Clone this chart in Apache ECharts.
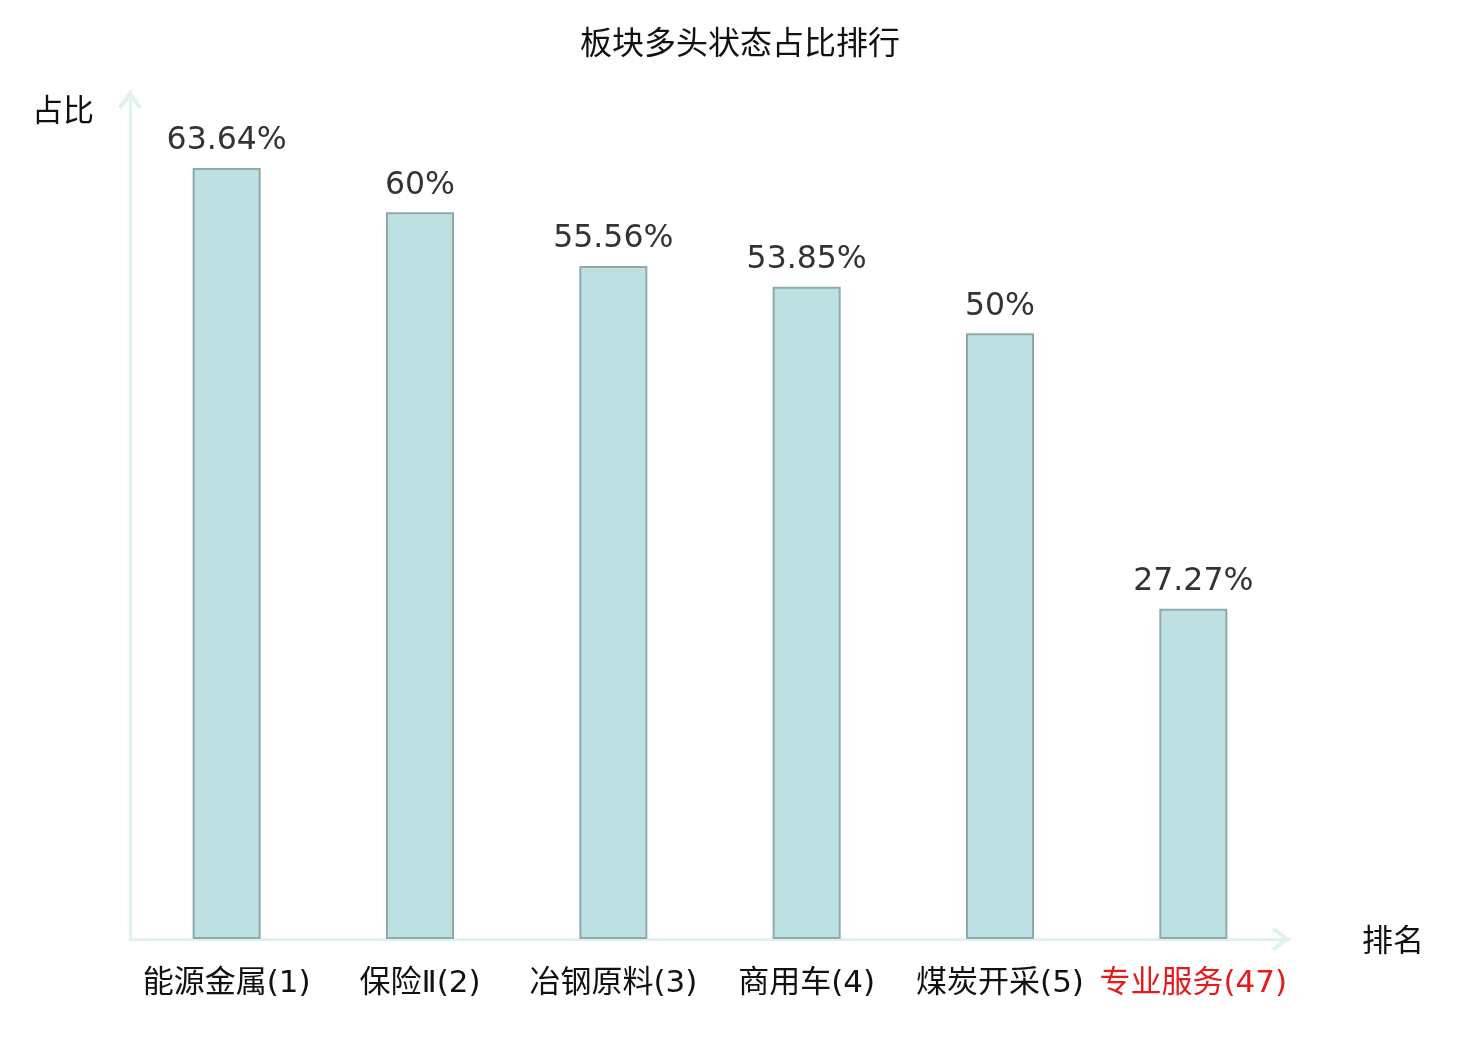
<!DOCTYPE html>
<html>
<head>
<meta charset="utf-8">
<title>板块多头状态占比排行</title>
<script src="https://cdn.jsdelivr.net/npm/echarts@6/dist/echarts.min.js"></script>
<style>
  html, body { margin: 0; padding: 0; background: #fff; }
  #chart { width: 1480px; height: 1040px; }
</style>
</head>
<body>
<div id="chart"></div>
<script>
// 板块名称与排名
const sectors = ['能源金属', '保险Ⅱ', '冶钢原料', '商用车', '煤炭开采', '专业服务']
const ranks = [1, 2, 3, 4, 5, 47]
// 多头状态占比（%）
const ratios = [63.64, 60, 55.56, 53.85, 50, 27.27]
// 高亮的板块（当前关注）
const highlight = '专业服务'

const categories = sectors.map((s, i) => s + '(' + ranks[i] + ')')

const chart = echarts.init(document.getElementById('chart'))

const font = '"DejaVu Sans", "Noto Sans CJK SC", sans-serif'
const cjkFont = '"Noto Sans CJK SC", sans-serif'
const axisColor = '#dff2ef'
// 空心箭头（折线形），朝上，由 echarts 按轴方向旋转
const arrow = 'path://M0,16 L12,0 L24,16 L20.8,18.4 L12,6.7 L3.2,18.4 Z'

chart.setOption({
  animation: false,
  textStyle: { fontFamily: font },
  title: {
    text: '板块多头状态占比排行',
    left: 'center',
    top: 21,
    textStyle: { fontSize: 32, fontWeight: 'normal', color: '#111', fontFamily: cjkFont }
  },
  grid: { left: 130, right: 190, top: 91, bottom: 101 },
  xAxis: {
    type: 'category',
    data: categories,
    name: '排名',
    nameGap: 72,
    nameTextStyle: { fontSize: 31, color: '#111', fontFamily: cjkFont, padding: [10, 0, 0, 0] },
    axisLine: {
      lineStyle: { color: axisColor, width: 3 },
      symbol: ['none', arrow],
      symbolSize: [24, 18.4],
      symbolOffset: [0, -9]
    },
    axisTick: { show: false },
    axisLabel: {
      interval: 0,
      margin: 29,
      fontSize: 31,
      color: (v) => v.indexOf(highlight) === 0 ? '#e8191b' : '#111'
    }
  },
  yAxis: {
    type: 'value',
    min: 0,
    max: 70,
    name: '占比',
    nameGap: -34,
    nameTextStyle: { fontSize: 31, color: '#111', fontFamily: cjkFont, padding: [0, 134, 0, 0] },
    axisLine: {
      show: true,
      lineStyle: { color: axisColor, width: 3 },
      symbol: ['none', arrow],
      symbolSize: [24, 18.4],
      symbolOffset: [0, -9]
    },
    axisTick: { show: false },
    axisLabel: { show: false },
    splitLine: { show: false }
  },
  series: [{
    type: 'bar',
    data: ratios,
    barWidth: 68,
    itemStyle: { color: '#bde0e3', borderColor: '#8eaaaa', borderWidth: 2 },
    label: {
      show: true,
      position: 'top',
      distance: 11,
      fontSize: 31.5,
      color: '#333',
      formatter: (p) => p.value + '%'
    }
  }]
})

window.addEventListener('resize', () => chart.resize())
</script>
</body>
</html>
